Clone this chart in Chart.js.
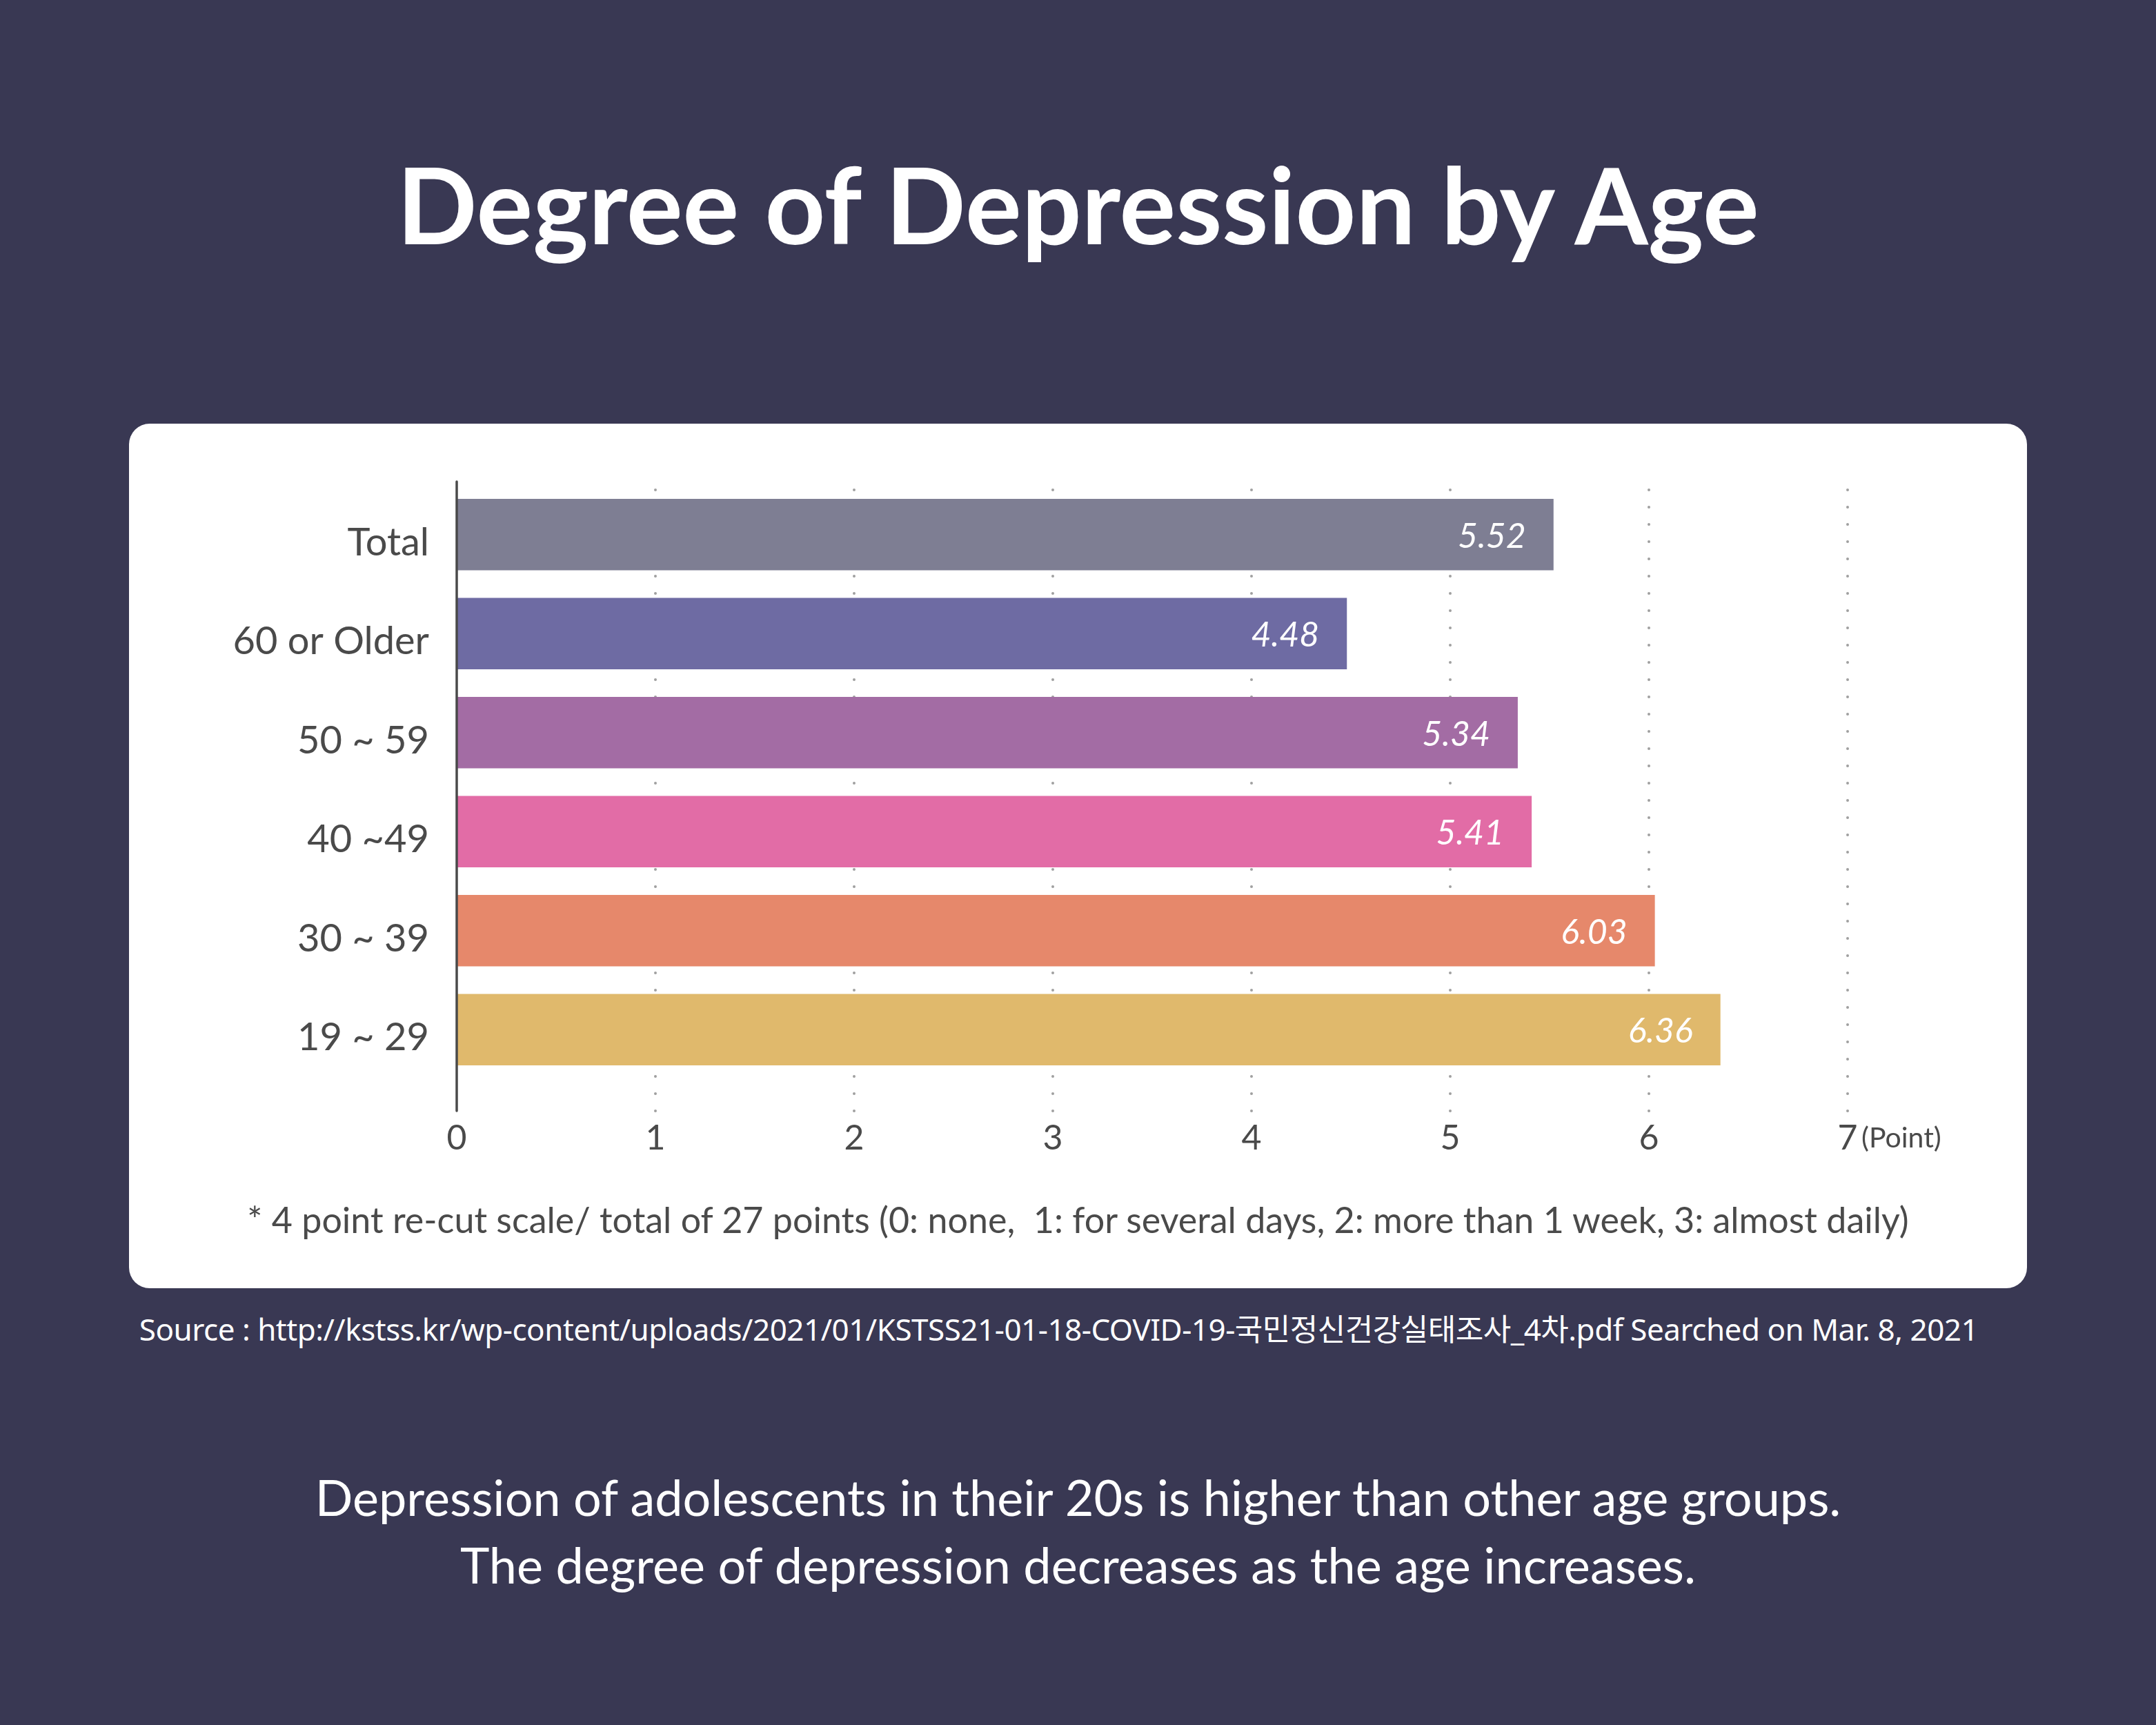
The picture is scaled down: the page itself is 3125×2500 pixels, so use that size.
<!DOCTYPE html>
<html>
<head>
<meta charset="utf-8">
<title>Degree of Depression by Age</title>
<script src="https://cdn.jsdelivr.net/npm/chart.js@4.4.0/dist/chart.umd.min.js"></script>
<style>
  body{margin:0;width:3125px;height:2500px;background:#393853;position:relative;overflow:hidden;font-family:Lato,"Noto Sans",sans-serif;}
  #title{position:absolute;left:0;top:210px;width:3125px;text-align:center;color:#fff;font-weight:700;font-size:153px;line-height:170px;}
  #card{position:absolute;left:187px;top:614px;width:2751px;height:1253px;background:#fff;border-radius:30px;}
  #chartCanvas{position:absolute;left:0;top:0;}
  #note{position:absolute;left:0;top:1118px;width:2751px;text-align:center;color:#4a4a4a;font-size:52px;line-height:70px;}
  #source{position:absolute;left:-28px;top:1898px;width:3125px;text-align:center;color:#fff;font-family:"Noto Sans","Noto Sans CJK KR",sans-serif;font-size:44px;line-height:56px;letter-spacing:-0.5px;}
  #summary{position:absolute;left:0;top:2120px;width:3125px;text-align:center;color:#fff;font-size:72px;line-height:98px;}
</style>
</head>
<body>
<div id="title">Degree of Depression by Age</div>
<div id="card">
  <canvas id="chartCanvas" width="2751" height="1253"></canvas>
  <div id="note">* 4 point re-cut scale/ total of 27 points (0: none,&nbsp; 1: for several days, 2: more than 1 week, 3: almost daily)</div>
</div>
<div id="source">Source : http://kstss.kr/wp-content/uploads/2021/01/KSTSS21-01-18-COVID-19-국민정신건강실태조사_4차.pdf Searched on Mar. 8, 2021</div>
<div id="summary">Depression of adolescents in their 20s is higher than other age groups.<br>The degree of depression decreases as the age increases.</div>

<script>
// data
const categories=['Total','60 or Older','50 ~ 59','40 ~49','30 ~ 39','19 ~ 29'];
const scores=[5.52,4.48,5.34,5.41,6.03,6.36];
const xMin=0;
const xMax=7;
const unitLabel='(Point)';

// colours for each bar
const barColors=['#7e7e93','#6e6ba3','#a36ca4','#e26ca6','#e6886b','#e0b96c'];

const textColor='#4a4a4a';
const fontFamily='Lato, "Noto Sans", sans-serif';

// dotted grid + axis line, drawn a bit longer than the chart area like the original
const gridPlugin={
    id:'dottedGrid',
    beforeDatasetsDraw(chart){
        const ctx=chart.ctx;
        const area=chart.chartArea;
        const x=chart.scales.x;
        ctx.save();
        ctx.fillStyle='#a0a0a0';
        for(let v=xMin+1;v<=xMax;v++){
            const px=x.getPixelForValue(v);
            for(let y=area.top+7;y<=area.bottom+47;y+=25){
                ctx.beginPath();
                ctx.arc(px,y,2,0,Math.PI*2);
                ctx.fill();
            }
        }
        ctx.restore();
    },
    afterDatasetsDraw(chart){
        const ctx=chart.ctx;
        const area=chart.chartArea;
        const x=chart.scales.x;
        const y=chart.scales.y;
        ctx.save();
        //y axis line
        ctx.strokeStyle='#4a4a4a';
        ctx.lineWidth=3.5;
        ctx.lineCap='round';
        ctx.beginPath();
        ctx.moveTo(x.getPixelForValue(xMin),area.top-5);
        ctx.lineTo(x.getPixelForValue(xMin),area.bottom+46);
        ctx.stroke();

        //category labels (sit a little below the bar centre in the original)
        ctx.fillStyle=textColor;
        ctx.font='56px '+fontFamily;
        ctx.textAlign='right';
        ctx.textBaseline='middle';
        categories.forEach((c,i)=>{
            ctx.fillText(c,area.left-40,y.getPixelForValue(i)+12);
        });

        //value labels inside the bars
        ctx.fillStyle='#fff';
        ctx.font='italic 50px '+fontFamily;
        chart.getDatasetMeta(0).data.forEach((bar,i)=>{
            ctx.fillText(scores[i].toFixed(2),bar.x-40,bar.y+3);
        });

        //unit after the last tick
        ctx.fillStyle=textColor;
        ctx.font='41px '+fontFamily;
        ctx.textAlign='left';
        ctx.fillText(unitLabel,x.getPixelForValue(xMax)+20,area.bottom+86);
        ctx.restore();
    }
};

const config={
    type:'bar',
    data:{
        labels:categories,
        datasets:[{
            data:scores,
            backgroundColor:barColors,
            borderWidth:0,
            categoryPercentage:1,
            barPercentage:0.72
        }]
    },
    options:{
        indexAxis:'y',
        responsive:false,
        animation:false,
        devicePixelRatio:1,
        layout:{padding:{top:89,right:260,left:0,bottom:0}},
        plugins:{
            legend:{display:false},
            tooltip:{enabled:false}
        },
        scales:{
            x:{
                min:xMin,
                max:xMax,
                ticks:{stepSize:1,color:textColor,padding:56,font:{family:fontFamily,size:50}},
                grid:{display:false,drawTicks:false},
                border:{display:false},
                afterFit(scale){scale.height=303;}
            },
            y:{
                ticks:{display:false},
                grid:{display:false,drawTicks:false},
                border:{display:false},
                afterFit(scale){scale.width=475;}
            }
        }
    },
    plugins:[gridPlugin]
};

var myChart=new Chart(document.getElementById('chartCanvas'),config);
</script>
</body>
</html>
